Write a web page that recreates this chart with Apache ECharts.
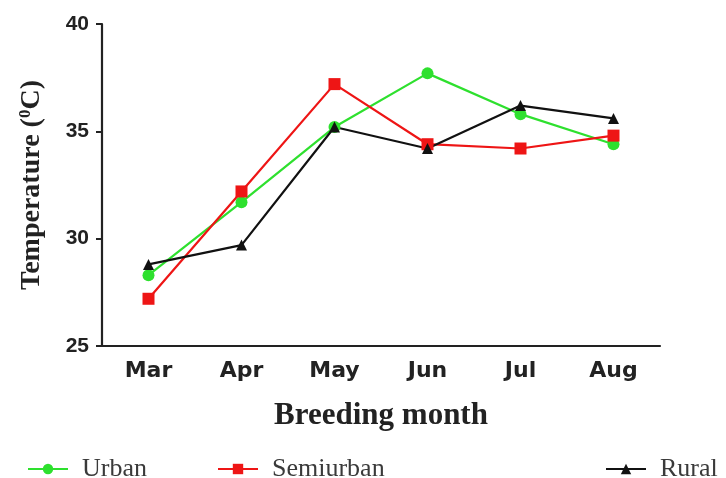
<!DOCTYPE html>
<html>
<head>
<meta charset="utf-8">
<script src="https://cdn.jsdelivr.net/npm/echarts@6/dist/echarts.min.js"></script>
<style>
  html, body { margin: 0; padding: 0; background: #fff; }
  #chart { width: 726px; height: 478px; }
</style>
</head>
<body>
<div id="chart"></div>
<script>
// Breeding-month temperatures per habitat type
const months = ['Mar', 'Apr', 'May', 'Jun', 'Jul', 'Aug'];
const urban = [28.3, 31.7, 35.2, 37.7, 35.8, 34.4];
const semiurban = [27.2, 32.2, 37.2, 34.4, 34.2, 34.8];
const rural = [28.8, 29.7, 35.2, 34.2, 36.2, 35.6];
const yTicks = [25, 30, 35, 40];

const GREEN = '#2ee02e';
const RED = '#ee1515';
const BLACK = '#111111';
const SERIF = '"Liberation Serif", "Times New Roman", serif';

const chart = echarts.init(document.getElementById('chart'));

function legendAt(name, left) {
  return {
    data: [name],
    left: left,
    top: 451,
    itemWidth: 40,
    itemHeight: 13,
    textStyle: {
      fontFamily: SERIF,
      fontSize: 26,
      color: '#3a3a3a',
      padding: [0, 0, 0, 9]
    }
  };
}

function lineSeries(name, data, color, symbol, size) {
  return {
    name: name,
    type: 'line',
    data: data,
    symbol: symbol,
    symbolSize: size,
    lineStyle: { color: color, width: 2.2 },
    itemStyle: { color: color },
    emphasis: { disabled: true },
    z: 2
  };
}

chart.setOption({
  animation: false,
  backgroundColor: '#fff',
  grid: { left: 102, right: 66, top: 24, bottom: 132 },
  legend: [
    legendAt('Urban', 22),
    legendAt('Semiurban', 212),
    legendAt('Rural', 600)
  ],
  xAxis: {
    type: 'category',
    data: months,
    boundaryGap: true,
    axisLine: { lineStyle: { color: '#222', width: 2.2 } },
    axisTick: { alignWithLabel: true, length: 6, lineStyle: { color: '#222', width: 2 } },
    axisLabel: {
      margin: 14,
      fontFamily: '"DejaVu Sans", sans-serif',
      fontWeight: 'bold',
      fontSize: 22,
      color: '#222'
    },
    name: 'Breeding month',
    nameLocation: 'middle',
    nameGap: 54,
    nameTextStyle: {
      fontFamily: SERIF,
      fontWeight: 'bold',
      fontSize: 31,
      color: '#222'
    }
  },
  yAxis: {
    type: 'value',
    min: yTicks[0],
    max: yTicks[yTicks.length - 1],
    interval: 5,
    splitLine: { show: false },
    axisLine: { show: true, lineStyle: { color: '#222', width: 2.2 } },
    axisTick: { show: true, length: 6, lineStyle: { color: '#222', width: 2 } },
    axisLabel: {
      margin: 13,
      fontFamily: '"Liberation Sans", Arial, sans-serif',
      fontWeight: 'bold',
      fontSize: 21,
      color: '#222'
    },
    name: '{t|Temperature (}{s|0}{t|C)}',
    nameLocation: 'middle',
    nameGap: 56,
    nameRotate: 90,
    nameTextStyle: {
      rich: {
        t: {
          fontFamily: SERIF,
          fontWeight: 'bold',
          fontSize: 28,
          color: '#222'
        },
        s: {
          fontFamily: SERIF,
          fontWeight: 'bold',
          fontSize: 17,
          color: '#222',
          verticalAlign: 'top',
          padding: [0, 0, 12, 0]
        }
      }
    }
  },
  series: [
    lineSeries('Urban', urban, GREEN, 'circle', 12),
    lineSeries('Semiurban', semiurban, RED, 'rect', 12),
    lineSeries('Rural', rural, BLACK, 'triangle', 11)
  ]
});
</script>
</body>
</html>
